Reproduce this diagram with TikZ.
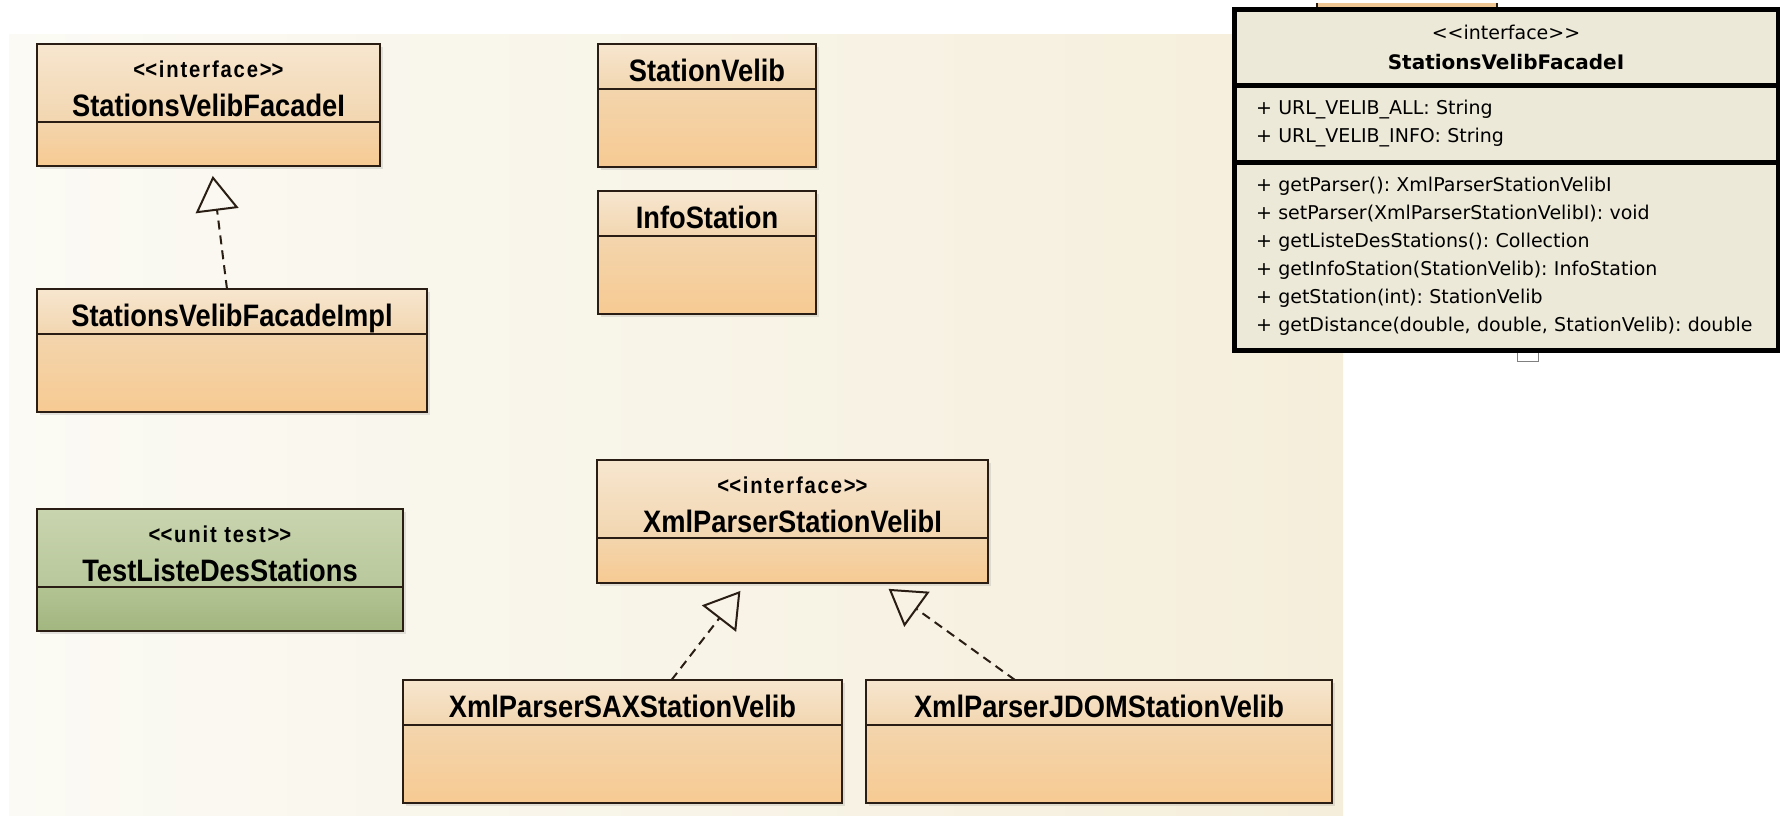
\documentclass[tikz,border=0pt]{standalone}
\usepackage{fontspec}
\setmainfont{Liberation Sans}
\newfontfamily\umlfont[FakeStretch=0.88]{Liberation Sans}
\newfontfamily\xpfont{DejaVu Sans}
\usetikzlibrary{positioning,arrows.meta,shadows}
\frenchspacing

\definecolor{bgleft}{HTML}{FBFAF4}
\definecolor{bgright}{HTML}{F5EEDB}
\definecolor{headtop}{HTML}{F7E6CF}
\definecolor{headbot}{HTML}{F2D6B0}
\definecolor{bodytop}{HTML}{F3D5AD}
\definecolor{bodybot}{HTML}{F7CA92}
\definecolor{testtop}{HTML}{C8D4AE}
\definecolor{testbot}{HTML}{B9C89C}
\definecolor{testmid}{HTML}{B3C493}
\definecolor{testlow}{HTML}{A2B680}
\definecolor{xpgrey}{HTML}{ECE9D8}
\definecolor{edgebrown}{HTML}{2A1E14}
\definecolor{sliver}{HTML}{EFC794}

\newcommand{\clsfont}{\umlfont\bfseries\fontsize{31}{34}\selectfont}
\newcommand{\stereo}[1]{{\fontsize{23}{26}\selectfont\addfontfeature{LetterSpace=8}<\kern0pt<#1>\kern0pt>}}

\begin{document}
\begin{tikzpicture}[x=1pt,y=-1pt]
		\tikzset{
		    head/.style={rectangle,draw=edgebrown,line width=2pt,outer sep=0pt,inner sep=0pt,anchor=north west,top color=headtop,bottom color=headbot,align=center,font=\clsfont,text height=29pt,text depth=0pt,minimum height=45pt,drop shadow={shadow xshift=3pt,shadow yshift=-3pt,opacity=.2}},
		    stereohead/.style={head,text height=66pt,minimum height=78pt},
		    body/.style={rectangle,draw=edgebrown,line width=2pt,outer sep=0pt,inner sep=0pt,top color=bodytop,bottom color=bodybot,minimum height=78pt,drop shadow={shadow xshift=3pt,shadow yshift=-3pt,opacity=.2}},
		    testhead/.style={top color=testtop,bottom color=testbot},
		    testbody/.style={top color=testmid,bottom color=testlow},
		    realize/.style={-{Triangle[open,length=35pt,width=43pt]},line width=2pt,draw=edgebrown,dash pattern=on 9pt off 6pt,shorten >=10pt},
		    xpbox/.style={rectangle,draw=black,line width=5pt,fill=xpgrey,outer sep=0pt,inner xsep=22pt,inner ysep=0pt,text width=500pt,anchor=north west,font=\xpfont\fontsize{19}{28}\selectfont}
		}
		\useasboundingbox (0,0) rectangle (1780,815);

		% background
		\fill[left color=bgleft,right color=bgright] (9,34) rectangle (1343,815);
		\fill[sliver] (1317,3) rectangle (1497,8);
		\draw[line width=1.5pt,edgebrown] (1317,3) -- (1317,8) (1497,3) -- (1497,8);
		\draw[line width=1pt,gray,fill=white] (1517,350) rectangle (1538,361);

		% vertices
		\node[stereohead,minimum width=343pt] (facade) at (37,44) {\stereo{interface}\\[5pt]StationsVelibFacadeI};
		\node[body,minimum width=343pt,minimum height=44pt,below=0pt of facade] (facadebody) {};
		\node[head,minimum width=218pt] (station) at (598,44) {StationVelib};
		\node[body,minimum width=218pt,below=0pt of station] (stationbody) {};
		\node[head,minimum width=218pt] (info) at (598,191) {InfoStation};
		\node[body,minimum width=218pt,below=0pt of info] (infobody) {};
		\node[head,minimum width=390pt] (impl) at (37,289) {StationsVelibFacadeImpl};
		\node[body,minimum width=390pt,below=0pt of impl] (implbody) {};
		\node[stereohead,testhead,minimum width=366pt] (test) at (37,509) {\stereo{unit test}\\[5pt]TestListeDesStations};
		\node[body,testbody,minimum width=366pt,minimum height=44pt,below=0pt of test] (testbody) {};
		\node[stereohead,minimum width=391pt] (xmlparser) at (597,460) {\stereo{interface}\\[5pt]XmlParserStationVelibI};
		\node[body,minimum width=391pt,minimum height=45pt,below=0pt of xmlparser] (xmlparserbody) {};
		\node[head,minimum width=439pt] (sax) at (403,680) {XmlParserSAXStationVelib};
		\node[body,minimum width=439pt,below=0pt of sax] (saxbody) {};
		\node[head,minimum width=466pt] (jdom) at (866,680) {XmlParserJDOMStationVelib};
		\node[body,minimum width=466pt,below=0pt of jdom] (jdombody) {};

		%edges
		\draw[realize] ([shift=({-5,0})]impl.north) -- ([shift=({3,0})]facadebody.south);
		\draw[realize] ([shift=({49,0})]sax.north) -- ([shift=({-46,0})]xmlparserbody.south);
		\draw[realize] ([shift=({-84,0})]jdom.north) -- ([shift=({88,0})]xmlparserbody.south);

		% interface detail
		\node[xpbox,align=center,minimum height=76pt] (xptitle) at (1234,9) {<\kern0pt<interface>\kern0pt>\\[2pt]{\fontsize{20}{28}\selectfont\bfseries StationsVelibFacadeI}};
		\node[xpbox,align=left,minimum height=77pt,below=0pt of xptitle] (xpattrs) {+ URL\_VELIB\_ALL: String\\+ URL\_VELIB\_INFO: String};
		\node[xpbox,align=left,minimum height=188pt,below=0pt of xpattrs] (xpops) {+ getParser(): XmlParserStationVelibI\\+ setParser(XmlParserStationVelibI): void\\+ getListeDesStations(): Collection\\+ getInfoStation(StationVelib): InfoStation\\+ getStation(int): StationVelib\\+ getDistance(double, double, StationVelib): double};

	\end{tikzpicture}
\end{document}
